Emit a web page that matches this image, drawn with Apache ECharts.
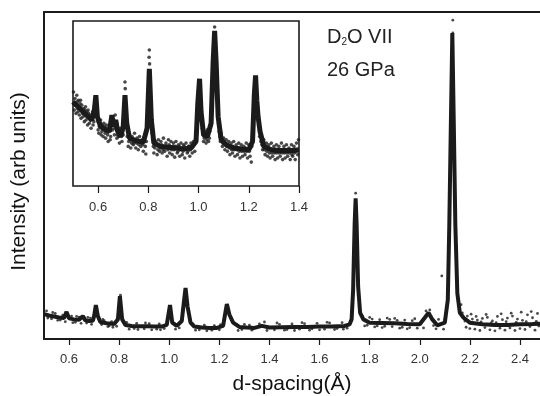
<!DOCTYPE html>
<html><head><meta charset="utf-8">
<script src="https://cdn.jsdelivr.net/npm/echarts@6/dist/echarts.min.js"></script>
<style>html,body{margin:0;padding:0;background:#fff}#c{width:540px;height:396px}</style>
</head><body><div id="c"></div>
<script>
// ---- main pattern: fitted profile [d, intensity] ----
const mainFit = [[0.50,7.6],[0.52,7.2],[0.54,6.9],[0.56,6.6],[0.58,6.4],[0.59,8.3],[0.60,6.3],[0.62,6.0],[0.64,5.9],[0.655,7.0],[0.665,5.7],[0.68,5.5],[0.695,5.6],[0.70,7.0],[0.707,10.4],[0.715,7.0],[0.725,5.2],[0.75,4.8],[0.78,4.6],[0.795,6.0],[0.803,13.1],[0.812,6.0],[0.825,4.3],[0.85,4.0],[0.88,3.9],[0.91,3.9],[0.94,3.8],[0.97,3.8],[0.99,4.3],[1.003,10.4],[1.012,5.0],[1.03,4.0],[1.05,5.5],[1.058,11],[1.065,15.6],[1.073,10],[1.085,5.0],[1.10,3.8],[1.13,3.5],[1.16,3.4],[1.19,3.4],[1.215,4.0],[1.225,8.5],[1.23,10.7],[1.24,7.5],[1.255,5.0],[1.28,3.7],[1.31,3.5],[1.34,3.4],[1.37,4.0],[1.40,3.5],[1.45,3.6],[1.50,3.7],[1.55,3.7],[1.60,3.8],[1.65,3.8],[1.70,4.0],[1.72,4.5],[1.728,6],[1.734,15],[1.740,35],[1.744,43],[1.748,35],[1.754,16],[1.762,8],[1.775,6],[1.80,5.0],[1.85,4.9],[1.90,4.8],[1.95,4.6],[2.00,4.5],[2.02,6.5],[2.035,8.0],[2.05,6.0],[2.07,4.2],[2.10,5.0],[2.112,12],[2.118,35],[2.124,65],[2.13,93.6],[2.136,65],[2.142,35],[2.150,14],[2.16,8],[2.175,6.5],[2.20,5.0],[2.25,4.5],[2.30,4.3],[2.35,4.3],[2.40,4.5],[2.45,4.6],[2.48,4.7]];
// ---- main pattern: observed points off the fitted line ----
const mainObs = [[0.51,8.6],[0.515,6.4],[0.53,6.2],[0.535,8.1],[0.545,7.8],[0.555,5.7],[0.565,5.8],[0.575,7.3],[0.585,5.3],[0.61,7.0],[0.615,5.0],[0.625,5.1],[0.63,6.9],[0.64,6.7],[0.648,4.8],[0.67,4.9],[0.675,6.6],[0.685,6.4],[0.69,4.5],[0.73,4.4],[0.735,6.0],[0.74,5.6],[0.755,3.8],[0.76,4.0],[0.77,5.3],[0.775,3.6],[0.79,3.9],[0.83,5.1],[0.84,3.0],[0.86,3.2],[0.87,4.8],[0.875,2.9],[0.90,3.1],[0.905,4.9],[0.92,4.7],[0.93,2.8],[0.95,3.0],[0.96,4.6],[0.965,2.8],[0.98,3.2],[1.02,4.8],[1.025,3.0],[1.04,3.4],[1.095,4.6],[1.105,2.7],[1.12,2.8],[1.14,4.2],[1.15,2.5],[1.17,2.7],[1.18,4.1],[1.20,2.8],[1.205,4.4],[1.27,4.4],[1.275,2.6],[1.29,2.9],[1.30,4.5],[1.32,4.2],[1.33,2.7],[1.36,4.6],[1.38,5.2],[1.39,2.6],[1.42,2.8],[1.43,4.9],[1.44,4.5],[1.46,2.7],[1.47,2.9],[1.49,4.6],[1.50,2.6],[1.52,3.0],[1.53,5.0],[1.54,4.7],[1.56,2.7],[1.57,3.1],[1.59,4.8],[1.60,2.8],[1.62,3.0],[1.63,5.1],[1.64,4.9],[1.66,2.9],[1.67,3.2],[1.69,5.0],[1.695,3.0],[1.71,3.3],[1.77,7.0],[1.78,4.0],[1.79,4.2],[1.80,6.6],[1.81,6.1],[1.82,3.7],[1.83,4.0],[1.84,5.9],[1.85,3.5],[1.86,3.9],[1.87,6.4],[1.88,6.0],[1.89,3.8],[1.90,6.3],[1.91,5.7],[1.92,3.3],[1.93,3.6],[1.94,5.8],[1.95,3.1],[1.96,3.5],[1.97,5.6],[1.98,6.2],[1.99,3.3],[2.01,5.6],[2.015,3.4],[2.025,8.6],[2.04,8.9],[2.045,6.8],[2.055,4.1],[2.06,5.2],[2.065,3.1],[2.075,6.0],[2.08,4.5],[2.088,19.3],[2.095,3.0],[2.10,6.0],[2.132,97.5],[2.132,93.6],[2.165,10.5],[2.17,8.0],[2.18,5.5],[2.185,3.6],[2.19,7.0],[2.20,3.2],[2.205,7.6],[2.21,6.1],[2.22,3.0],[2.225,6.9],[2.23,5.8],[2.24,2.6],[2.245,5.2],[2.25,6.3],[2.26,3.5],[2.265,7.5],[2.27,6.6],[2.28,2.8],[2.285,4.9],[2.29,5.5],[2.30,2.5],[2.305,5.0],[2.31,6.9],[2.32,3.3],[2.325,7.7],[2.33,5.9],[2.34,2.7],[2.345,5.3],[2.35,6.4],[2.36,3.4],[2.365,7.9],[2.37,7.0],[2.38,2.6],[2.385,5.1],[2.39,6.1],[2.40,3.2],[2.405,8.2],[2.41,5.7],[2.42,2.9],[2.425,5.3],[2.43,7.4],[2.44,3.8],[2.445,8.4],[2.45,6.5],[2.46,2.7],[2.465,5.4],[2.47,7.8],[2.475,4.0],[1.744,44.6],[0.805,13.4]];
// ---- inset: fitted profile ----
const insetFit = [[0.50,51],[0.52,48],[0.54,45],[0.56,42],[0.575,40],[0.585,46],[0.591,55],[0.597,42],[0.61,36],[0.63,34],[0.645,33],[0.655,43],[0.662,36],[0.67,40],[0.678,33],[0.69,30],[0.70,36],[0.707,55],[0.714,38],[0.725,29],[0.75,27.5],[0.78,26.5],[0.795,35],[0.804,71],[0.812,40],[0.822,26],[0.85,24],[0.88,23.5],[0.91,23],[0.94,22.5],[0.97,23],[0.99,27],[0.997,50],[1.004,65],[1.010,45],[1.02,31],[1.035,30],[1.05,38],[1.058,75],[1.064,94],[1.07,75],[1.078,42],[1.09,28],[1.11,25],[1.14,23],[1.17,22.5],[1.20,22],[1.215,27],[1.222,55],[1.227,67],[1.232,52],[1.237,42],[1.245,33],[1.26,24],[1.29,22],[1.32,21.5],[1.35,21.5],[1.38,21.5],[1.40,22]];
// ---- inset: observed points ----
const insetObs = [[0.502,57],[0.505,46],[0.508,53],[0.512,44],[0.515,55],[0.518,47],[0.522,52],[0.525,43],[0.528,50],[0.532,41],[0.535,49],[0.538,44],[0.542,47],[0.545,39],[0.548,46],[0.552,40],[0.555,45],[0.558,37],[0.562,44],[0.565,38],[0.568,43],[0.572,35],[0.576,42],[0.58,37],[0.60,39],[0.603,32],[0.607,38],[0.612,31],[0.616,37],[0.62,30],[0.625,36],[0.63,29],[0.635,35],[0.64,27],[0.645,36],[0.65,30],[0.66,39],[0.665,31],[0.668,43],[0.672,36],[0.675,29],[0.68,34],[0.685,26],[0.69,33],[0.695,27],[0.70,31],[0.707,63],[0.708,59],[0.706,51],[0.718,33],[0.72,24],[0.725,31],[0.73,23],[0.735,30],[0.74,25],[0.745,32],[0.75,23],[0.755,29],[0.76,22],[0.765,30],[0.77,24],[0.775,28],[0.78,21],[0.785,30],[0.79,19.4],[0.804,82.4],[0.803,78],[0.805,74],[0.818,28],[0.822,20],[0.83,27],[0.835,19],[0.84,28],[0.845,21],[0.85,27],[0.855,20],[0.86,29],[0.865,21],[0.87,26],[0.875,18],[0.88,28],[0.885,20],[0.89,27],[0.895,19],[0.90,26],[0.905,17.5],[0.91,27],[0.915,20],[0.92,25],[0.925,18],[0.93,26],[0.935,19],[0.94,25],[0.945,17],[0.95,26],[0.955,20],[0.96,24],[0.965,18],[0.97,26],[0.975,20],[0.98,27],[0.985,21],[1.015,35],[1.02,27],[1.025,33],[1.03,26],[1.035,34],[1.04,27],[1.045,33],[1.064,96.4],[1.08,38],[1.085,30],[1.09,32],[1.095,24],[1.10,29],[1.105,22],[1.11,28],[1.115,21],[1.12,27],[1.125,19],[1.13,26],[1.135,20],[1.14,27],[1.145,18],[1.15,25],[1.155,19],[1.16,26],[1.165,17],[1.17,25],[1.175,18],[1.18,24],[1.185,19],[1.19,26],[1.195,17],[1.20,25],[1.205,18],[1.21,14.5],[1.212,24],[1.25,30],[1.255,22],[1.26,28],[1.265,19],[1.27,26],[1.275,18],[1.28,25],[1.285,17],[1.29,26],[1.295,18],[1.30,24],[1.305,16],[1.31,25],[1.315,17],[1.32,24],[1.325,18],[1.33,26],[1.335,16],[1.34,24],[1.345,17],[1.35,25],[1.355,18],[1.36,23],[1.365,16],[1.37,25],[1.375,18],[1.38,24],[1.385,16],[1.39,26],[1.395,19],[1.398,28],
 [0.503,50],[0.51,49],[0.517,51],[0.52,45],[0.527,47],[0.53,52],[0.54,42],[0.55,48],[0.553,43],[0.56,46],[0.57,40],[0.578,45],[0.583,39],[0.588,43],[0.595,47],[0.60,34],[0.605,36],[0.61,40],[0.615,33],[0.62,35],[0.623,38],[0.628,32],[0.633,37],[0.638,31],[0.643,34],[0.648,28],[0.652,38],[0.658,34],[0.663,40],[0.667,35],[0.674,38],[0.677,31],[0.683,30],[0.688,35],[0.693,30],[0.697,33],[0.712,44],[0.716,30],[0.722,27],[0.728,28],[0.733,26],[0.738,28],[0.742,26],[0.748,28],[0.753,26],[0.758,27],[0.762,25],[0.768,27],[0.773,26],[0.778,25],[0.783,27],[0.788,24],[0.792,27],[0.815,32],[0.82,24],[0.826,23],[0.833,25],[0.838,22],[0.843,24],[0.848,23],[0.853,25],[0.858,22],[0.863,24],[0.868,23],[0.873,24],[0.878,22],[0.883,25],[0.888,23],[0.893,22],[0.898,24],[0.903,22],[0.908,24],[0.913,23],[0.918,21],[0.923,24],[0.928,22],[0.933,23],[0.938,21],[0.943,24],[0.948,22],[0.953,23],[0.958,21],[0.963,24],[0.968,22],[0.973,23],[0.978,24],[0.983,25],[0.988,28],[1.013,38],[1.018,31],[1.023,29],[1.028,31],[1.033,28],[1.038,31],[1.043,29],[1.048,36],[1.075,55],[1.082,33],[1.087,27],[1.092,29],[1.097,26],[1.102,26],[1.107,25],[1.112,24],[1.117,25],[1.122,23],[1.127,24],[1.132,22],[1.137,24],[1.142,22],[1.147,23],[1.152,22],[1.157,23],[1.162,21],[1.167,23],[1.172,21],[1.177,22],[1.182,21],[1.187,23],[1.192,21],[1.197,22],[1.202,21],[1.207,23],[1.218,40],[1.235,47],[1.24,38],[1.243,30],[1.248,27],[1.252,25],[1.258,24],[1.262,22],[1.268,23],[1.272,21],[1.278,22],[1.282,20],[1.288,22],[1.292,20],[1.298,22],[1.302,20],[1.308,21],[1.312,20],[1.318,22],[1.322,20],[1.328,21],[1.332,20],[1.338,22],[1.342,20],[1.348,21],[1.352,20],[1.358,22],[1.362,20],[1.368,21],[1.372,19],[1.378,22],[1.382,20],[1.388,21],[1.392,22]];
// ---- ticks ----
const mainTicks = [0.6,0.8,1.0,1.2,1.4,1.6,1.8,2.0,2.2,2.4];
const insetTicks = [0.6,0.8,1.0,1.2,1.4];
const xName = 'd-spacing(Å)';
const yName = 'Intensity (arb units)';
const labelLine1 = ['D','2','O VII'];
const labelLine2 = '26 GPa';

const ink = '#1b1b1b';
const font = 'Liberation Sans, Arial, sans-serif';
const chart = echarts.init(document.getElementById('c'), null, {renderer:'canvas'});
chart.setOption({
  animation:false,
  backgroundColor:'#fff',
  grid:[
    {left:44, right:0, top:12, bottom:57, show:false, containLabel:false, outerBoundsMode:'none'},
    {left:73, right:241, top:21, bottom:210, show:true, borderColor:ink, borderWidth:1.6, backgroundColor:'#fff', z:5, containLabel:false, outerBoundsMode:'none'}
  ],
  xAxis:[
    {gridIndex:0, type:'value', min:0.5, max:2.48, position:'bottom',
     name:xName, nameLocation:'middle', nameGap:35,
     nameTextStyle:{fontFamily:font, fontSize:21, color:'#111'},
     axisLine:{show:true, onZero:false, lineStyle:{color:ink, width:2}},
     axisTick:{show:true, inside:false, length:6, customValues:mainTicks, lineStyle:{color:ink, width:1.2}},
     axisLabel:{show:true, customValues:mainTicks, margin:14, fontFamily:font, fontSize:13, color:'#333', formatter:v=>Number(v).toFixed(1)},
     splitLine:{show:false}},
    {gridIndex:0, type:'value', min:0.5, max:2.48, position:'top',
     axisLine:{show:true, onZero:false, lineStyle:{color:ink, width:2}},
     axisTick:{show:false}, axisLabel:{show:false}, splitLine:{show:false}},
    {gridIndex:1, type:'value', min:0.5, max:1.4, position:'bottom',
     axisLine:{show:false, onZero:false},
     axisTick:{show:true, inside:false, length:7, customValues:insetTicks, lineStyle:{color:ink, width:1.2}},
     axisLabel:{show:true, customValues:insetTicks, margin:15, fontFamily:font, fontSize:13, color:'#333', formatter:v=>Number(v).toFixed(1)},
     splitLine:{show:false}, z:6}
  ],
  yAxis:[
    {gridIndex:0, type:'value', min:0, max:100,
     name:yName, nameLocation:'middle', nameGap:14, nameRotate:90,
     nameTextStyle:{fontFamily:font, fontSize:21, color:'#111', padding:[0,12,0,0]},
     axisLine:{show:true, onZero:false, lineStyle:{color:ink, width:2}},
     axisTick:{show:false}, axisLabel:{show:false}, splitLine:{show:false}},
    {gridIndex:1, type:'value', min:0, max:100,
     axisLine:{show:false}, axisTick:{show:false}, axisLabel:{show:false}, splitLine:{show:false}}
  ],
  series:[
    {type:'line', xAxisIndex:0, yAxisIndex:0, data:mainFit, showSymbol:false, smooth:false,
     lineStyle:{color:ink, width:4}, z:2},
    {type:'scatter', xAxisIndex:0, yAxisIndex:0, data:mainObs, symbolSize:2.8,
     itemStyle:{color:ink}, z:3},
    {type:'line', xAxisIndex:2, yAxisIndex:1, data:insetFit, showSymbol:false, smooth:false,
     lineStyle:{color:ink, width:5}, z:7},
    {type:'scatter', xAxisIndex:2, yAxisIndex:1, data:insetObs, symbolSize:3.6,
     itemStyle:{color:ink}, z:8}
  ],
  graphic:[
    {type:'text', left:327, top:27, z:10,
     style:{text:'{n|'+labelLine1[0]+'}{s|'+labelLine1[1]+'}{n|'+labelLine1[2]+'}',
       rich:{n:{fontFamily:font, fontSize:20, fill:'#222'}, s:{fontFamily:font, fontSize:10, fill:'#222', padding:[10,0,0,0]}}}},
    {type:'text', left:327, top:60, z:10,
     style:{text:labelLine2, fontFamily:font, fontSize:20, fill:'#222'}}
  ]
});
</script></body></html>
